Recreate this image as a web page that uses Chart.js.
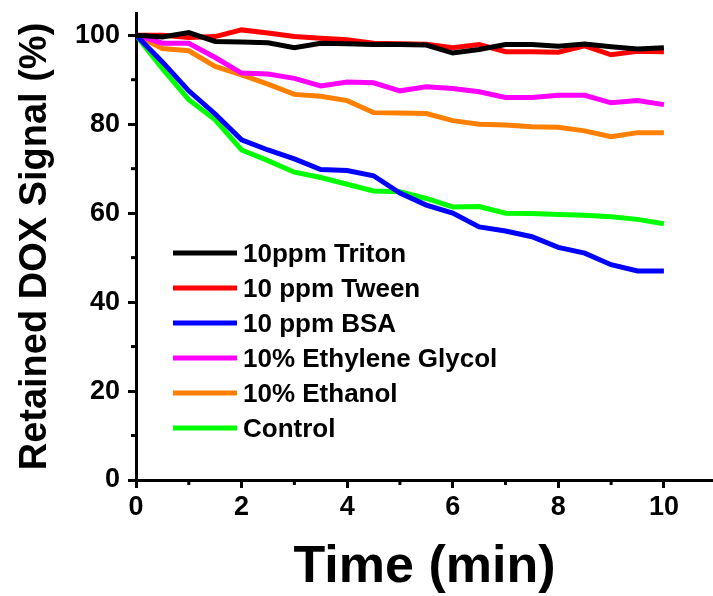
<!DOCTYPE html>
<html>
<head>
<meta charset="utf-8">
<script src="https://cdn.jsdelivr.net/npm/chart.js@4"></script>
<style>
  html, body { margin: 0; padding: 0; background: #ffffff; }
  canvas { display: block; }
</style>
</head>
<body>
<canvas id="chart" width="713" height="596"></canvas>
<script>
// Time points (min) and retained signal (%) for each condition
var times = [0, 0.5, 1, 1.5, 2, 2.5, 3, 3.5, 4, 4.5, 5, 5.5, 6, 6.5, 7, 7.5, 8, 8.5, 9, 9.5, 10];

var triton   = [100, 99.6, 100.6, 98.6, 98.5, 98.3, 97.2, 98.2, 98.1, 97.9, 97.9, 97.8, 96.0, 96.8, 97.9, 97.9, 97.5, 98.0, 97.4, 96.9, 97.2];
var tween    = [100, 100, 99.5, 99.7, 101.2, 100.5, 99.7, 99.3, 99.0, 98.2, 98.1, 98.0, 97.2, 97.9, 96.3, 96.3, 96.2, 97.6, 95.6, 96.4, 96.3];
var bsa      = [100, 94, 87.5, 82.3, 76.5, 74.2, 72.2, 69.8, 69.6, 68.4, 64.5, 61.8, 60.0, 56.9, 56.0, 54.7, 52.3, 51.0, 48.4, 47.0, 47.0];
var glycol   = [100, 98.2, 98.2, 95.0, 91.5, 91.3, 90.3, 88.6, 89.5, 89.3, 87.5, 88.4, 88.0, 87.3, 86.0, 86.0, 86.5, 86.5, 84.8, 85.3, 84.4];
var ethanol  = [100, 97.0, 96.5, 93.0, 91.1, 89.0, 86.7, 86.3, 85.3, 82.6, 82.5, 82.4, 80.8, 80.0, 79.8, 79.4, 79.3, 78.5, 77.2, 78.1, 78.1];
var control  = [100, 92.5, 85.5, 81.0, 74.2, 71.8, 69.2, 68.0, 66.5, 65.0, 64.8, 63.3, 61.4, 61.5, 60.0, 59.9, 59.7, 59.5, 59.2, 58.6, 57.6];

var seriesLabels = ['10ppm Triton', '10 ppm Tween', '10 ppm BSA', '10% Ethylene Glycol', '10% Ethanol', 'Control'];
var seriesValues = [triton, tween, bsa, glycol, ethanol, control];
var seriesColors = ['#000000', '#ff0000', '#0000ff', '#ff00ff', '#ff8000', '#00ff00'];

var xTicks = [0, 2, 4, 6, 8, 10];
var xMinorTicks = [1, 3, 5, 7, 9];
var yTicks = [0, 20, 40, 60, 80, 100];
var yMinorTicks = [10, 30, 50, 70, 90];

var FONT = "'Liberation Sans', Arial, sans-serif";

function toPoints(values) {
  return values.map(function (v, i) { return { x: times[i], y: v }; });
}

var datasets = seriesValues.map(function (values, i) {
  return {
    label: seriesLabels[i],
    data: toPoints(values),
    borderColor: seriesColors[i],
    backgroundColor: seriesColors[i],
    borderWidth: 5,
    pointRadius: 0,
    tension: 0,
    fill: false
  };
});

// minor ticks (outward) on both axes
var minorTicks = {
  id: 'minorTicks',
  afterDraw: function (chart) {
    var ctx = chart.ctx;
    var xs = chart.scales.x, ys = chart.scales.y;
    ctx.save();
    ctx.strokeStyle = '#000';
    ctx.lineWidth = 3;
    xMinorTicks.forEach(function (v) {
      var px = xs.getPixelForValue(v);
      ctx.beginPath();
      ctx.moveTo(px, ys.bottom);
      ctx.lineTo(px, ys.bottom + 5);
      ctx.stroke();
    });
    yMinorTicks.forEach(function (v) {
      var py = ys.getPixelForValue(v);
      ctx.beginPath();
      ctx.moveTo(xs.left, py);
      ctx.lineTo(xs.left - 5, py);
      ctx.stroke();
    });
    ctx.restore();
  }
};

// legend drawn inside the plot area
var insideLegend = {
  id: 'insideLegend',
  afterDatasetsDraw: function (chart) {
    var ctx = chart.ctx;
    var area = chart.chartArea;
    var x0 = area.left + 37;
    var y0 = area.top + 240;
    var rowGap = 35;
    ctx.save();
    ctx.font = 'bold 26px ' + FONT;
    ctx.textBaseline = 'middle';
    ctx.textAlign = 'left';
    chart.data.datasets.forEach(function (ds, i) {
      var y = y0 + i * rowGap;
      ctx.strokeStyle = ds.borderColor;
      ctx.lineWidth = 5;
      ctx.beginPath();
      ctx.moveTo(x0, y);
      ctx.lineTo(x0 + 64, y);
      ctx.stroke();
      ctx.fillStyle = '#000';
      ctx.fillText(ds.label, x0 + 70, y + 2);
    });
    ctx.restore();
  }
};

new Chart(document.getElementById('chart'), {
  type: 'line',
  data: { datasets: datasets },
  options: {
    responsive: false,
    animation: false,
    events: [],
    layout: { padding: { top: 13, left: 0, right: 0, bottom: 0 } },
    plugins: {
      legend: { display: false },
      tooltip: { enabled: false }
    },
    scales: {
      x: {
        type: 'linear',
        min: 0,
        max: 10.93,
        afterBuildTicks: function (scale) {
          scale.ticks = xTicks.map(function (v) { return { value: v }; });
        },
        afterFit: function (scale) {
          scale.height = 116;
          scale.paddingLeft = 0;
          scale.paddingRight = 0;
        },
        border: { display: true, color: '#000', width: 3 },
        grid: { drawOnChartArea: false, drawTicks: true, tickLength: 8, tickWidth: 3, tickColor: '#000' },
        ticks: { color: '#000', padding: 3, font: { family: FONT, size: 27, weight: 'bold' }, maxRotation: 0 },
        title: {
          display: true,
          text: 'Time (min)',
          color: '#000',
          font: { family: FONT, size: 52, weight: 'bold', lineHeight: 1 },
          padding: { top: 0, bottom: 2 }
        }
      },
      y: {
        type: 'linear',
        min: 0,
        max: 105,
        afterBuildTicks: function (scale) {
          scale.ticks = yTicks.map(function (v) { return { value: v }; });
        },
        afterFit: function (scale) {
          scale.width = 136;
          scale.paddingTop = 0;
          scale.paddingBottom = 0;
        },
        border: { display: true, color: '#000', width: 3 },
        grid: { drawOnChartArea: false, drawTicks: true, tickLength: 8, tickWidth: 3, tickColor: '#000' },
        ticks: { color: '#000', padding: 8, font: { family: FONT, size: 27, weight: 'bold' } },
        title: {
          display: true,
          text: 'Retained DOX Signal (%)',
          color: '#000',
          font: { family: FONT, size: 38, weight: 'bold', lineHeight: 1 },
          padding: { top: 17, bottom: 0 }
        }
      }
    }
  },
  plugins: [minorTicks, insideLegend]
});
</script>
</body>
</html>
